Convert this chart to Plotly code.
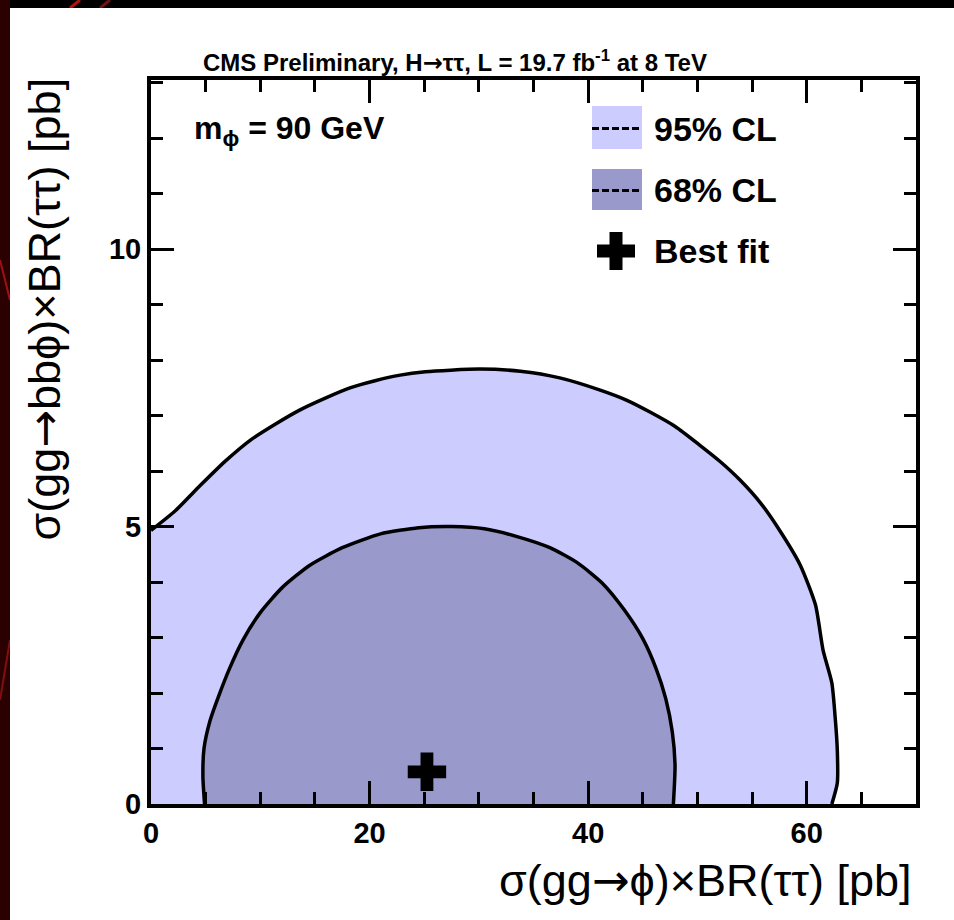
import plotly.graph_objects as go

# 95% CL contour (x: sigma(gg->phi)xBR, y: sigma(gg->bbphi)xBR), pb
x95 = [0.0, 2.2, 4.5, 6.8, 9.1, 11.4, 13.6, 16.0, 18.2, 20.5, 22.8, 25.1, 27.4,
       30.1, 33.8, 37.4, 41.1, 43.5, 45.7, 48.0, 50.2, 52.1, 53.9, 55.8, 57.5,
       59.4, 60.8, 61.5, 62.3, 62.6, 62.8, 62.8, 62.3]
y95 = [4.93, 5.28, 5.74, 6.18, 6.56, 6.85, 7.10, 7.32, 7.50, 7.63, 7.73, 7.79, 7.82,
       7.84, 7.80, 7.68, 7.46, 7.28, 7.06, 6.80, 6.47, 6.17, 5.84, 5.42, 4.94,
       4.31, 3.59, 2.77, 2.18, 1.57, 0.97, 0.38, 0.0]

# 68% CL contour
x68 = [4.9, 4.75, 4.85, 5.4, 6.2, 7.2, 8.4, 10.0, 12.0, 14.5, 17.5, 21.0, 24.5,
       27.5, 30.5, 33.5, 36.5, 39.0, 41.3, 43.3, 45.0, 46.2, 47.1, 47.7, 47.95, 47.8]
y68 = [0.0, 0.5, 1.0, 1.5, 1.95, 2.45, 2.95, 3.45, 3.9, 4.3, 4.62, 4.87, 4.98,
       5.0, 4.96, 4.82, 4.62, 4.35, 3.98, 3.5, 2.98, 2.45, 1.9, 1.3, 0.7, 0.0]

# best-fit point
best_x = [25.25]
best_y = [0.58]

x_range = [0, 70]
y_range = [0, 13.05]
x_ticks = [0, 20, 40, 60]
y_ticks = [0, 5, 10]

legend_labels = ["95% CL", "68% CL", "Best fit"]

C95 = "#ccccff"
C68 = "#9999cc"
FONT = "Liberation Sans, Arial, Helvetica, sans-serif"
ARROW = '<span style="font-family:DejaVu Sans">→</span>'

# plot-area geometry in page pixels
W, H = 954, 920
L, R, T, B = 151, 916, 80, 804


def px(xp):
    return (xp - L) / (R - L)


def py(yp):
    return (B - yp) / (B - T)


fig = go.Figure()

fig.add_trace(go.Scatter(x=[0] + x95, y=[0] + y95, fill="toself", fillcolor=C95,
                         mode="none", hoverinfo="skip", showlegend=False))
fig.add_trace(go.Scatter(x=x95, y=y95, mode="lines",
                         line=dict(color="black", width=3.5, shape="spline", smoothing=0.6),
                         showlegend=False))
fig.add_trace(go.Scatter(x=x68, y=y68, fill="toself", fillcolor=C68,
                         mode="none", hoverinfo="skip", showlegend=False))
fig.add_trace(go.Scatter(x=x68, y=y68, mode="lines",
                         line=dict(color="black", width=3.5, shape="spline", smoothing=0.6),
                         showlegend=False))
fig.add_trace(go.Scatter(x=best_x, y=best_y, mode="markers",
                         marker=dict(symbol="cross", size=32, color="black",
                                     line=dict(width=0)),
                         showlegend=False))

shapes = []
# slide background: dark frame with a white panel
shapes.append(dict(type="rect", xref="paper", yref="paper", layer="below",
                   x0=px(0), x1=px(10), y0=py(H), y1=py(0),
                   fillcolor="#2a0000", line=dict(width=0)))
shapes.append(dict(type="line", xref="paper", yref="paper", layer="below",
                   x0=px(0), x1=px(10), y0=py(260), y1=py(300),
                   line=dict(color="#a01010", width=2)))
shapes.append(dict(type="line", xref="paper", yref="paper", layer="below",
                   x0=px(0), x1=px(10), y0=py(700), y1=py(640),
                   line=dict(color="#801010", width=2)))
shapes.append(dict(type="line", xref="paper", yref="paper", layer="below",
                   x0=px(70), x1=px(80), y0=py(8), y1=py(0),
                   line=dict(color="#b01010", width=3)))
shapes.append(dict(type="line", xref="paper", yref="paper", layer="below",
                   x0=px(100), x1=px(110), y0=py(8), y1=py(0),
                   line=dict(color="#701010", width=3)))
shapes.append(dict(type="rect", xref="paper", yref="paper", layer="below",
                   x0=px(10), x1=px(W + 5), y0=py(H + 5), y1=py(8),
                   fillcolor="white", line=dict(width=0)))

# legend boxes with dashed contour line
for (ytop, ybot, col) in [(106, 149, C95), (169, 210, C68)]:
    shapes.append(dict(type="rect", xref="paper", yref="paper",
                       x0=px(592), x1=px(642), y0=py(ybot), y1=py(ytop),
                       fillcolor=col, line=dict(width=0)))
    ym = (ytop + ybot) / 2 + 1
    shapes.append(dict(type="line", xref="paper", yref="paper",
                       x0=px(592), x1=px(642), y0=py(ym), y1=py(ym),
                       line=dict(color="black", width=3, dash="7px,3px")))

# legend cross
cx, cy, hw, ht = 616, 251, 19, 6.5
pts = [(cx - ht, cy - hw), (cx + ht, cy - hw), (cx + ht, cy - ht), (cx + hw, cy - ht),
       (cx + hw, cy + ht), (cx + ht, cy + ht), (cx + ht, cy + hw), (cx - ht, cy + hw),
       (cx - ht, cy + ht), (cx - hw, cy + ht), (cx - hw, cy - ht), (cx - ht, cy - ht)]
path = "M " + " L ".join(f"{px(a):.5f},{py(b):.5f}" for a, b in pts) + " Z"
shapes.append(dict(type="path", xref="paper", yref="paper", path=path,
                   fillcolor="black", line=dict(width=0)))

annotations = []
for label, yc in zip(legend_labels, [129, 190, 251]):
    annotations.append(dict(text=label, xref="paper", yref="paper", x=px(652), y=py(yc),
                            xanchor="left", yanchor="middle", showarrow=False,
                            font=dict(family=FONT, size=34, color="black", weight="bold")))

annotations.append(dict(text="m<sub>ϕ</sub> = 90 GeV", xref="paper", yref="paper",
                        x=px(192), y=py(131), xanchor="left", yanchor="middle",
                        showarrow=False,
                        font=dict(family=FONT, size=32, color="black", weight="bold")))

annotations.append(dict(text=f"CMS Preliminary, H{ARROW}ττ, L = 19.7 fb<sup>-1</sup> at 8 TeV",
                        xref="paper", yref="paper", x=px(455), y=py(62),
                        xanchor="center", yanchor="middle", showarrow=False,
                        font=dict(family=FONT, size=24, color="black", weight="bold")))

annotations.append(dict(text=f"σ(gg{ARROW}ϕ)×BR(ττ) [pb]", xref="paper", yref="paper",
                        x=px(914), y=py(880), xanchor="right", yanchor="middle",
                        showarrow=False, font=dict(family=FONT, size=45, color="black")))

annotations.append(dict(text=f"σ(gg{ARROW}bbϕ)×BR(ττ) [pb]", xref="paper", yref="paper",
                        x=px(44), y=py(76), xanchor="center", yanchor="top",
                        textangle=-90, showarrow=False,
                        font=dict(family=FONT, size=45, color="black")))

axis_common = dict(showgrid=False, zeroline=False, showline=True, linecolor="black",
                   linewidth=4, mirror="allticks", ticks="inside", ticklen=23,
                   tickwidth=3, tickcolor="black",
                   tickfont=dict(family=FONT, size=29, color="black", weight="bold"))

fig.update_layout(
    width=W, height=H,
    margin=dict(l=L, r=W - R, t=T, b=H - B),
    paper_bgcolor="black", plot_bgcolor="white",
    xaxis=dict(range=x_range, tickvals=x_ticks,
               minor=dict(dtick=5, ticklen=12, tickwidth=3, tickcolor="black",
                          ticks="inside", showgrid=False),
               **axis_common),
    yaxis=dict(range=y_range, tickvals=y_ticks,
               minor=dict(dtick=1, ticklen=12, tickwidth=3, tickcolor="black",
                          ticks="inside", showgrid=False),
               **axis_common),
    shapes=shapes, annotations=annotations, showlegend=False,
)

fig.write_html("out.html")
